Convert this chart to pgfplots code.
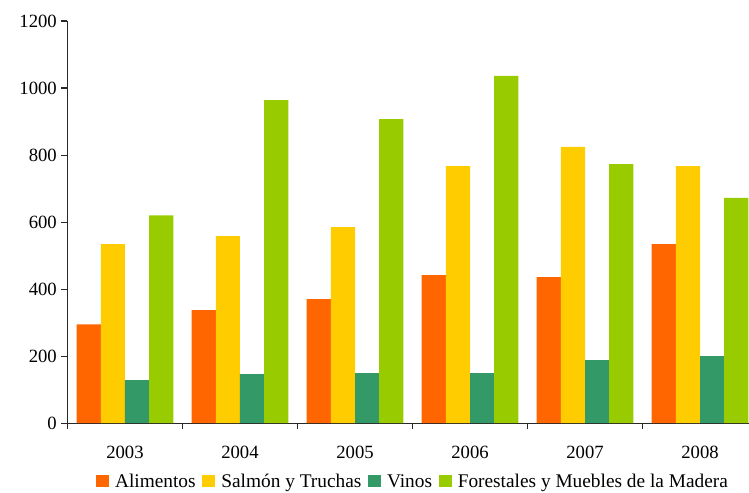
\documentclass[border=0pt]{standalone}
\usepackage{fontspec}
\setmainfont{Liberation Serif}
\usepackage{pgfplots}
\pgfplotsset{compat=1.18}
\definecolor{alim}{RGB}{255,102,0}
\definecolor{salmon}{RGB}{255,204,0}
\definecolor{vinos}{RGB}{51,153,102}
\definecolor{forest}{RGB}{153,204,0}
\definecolor{axisgray}{RGB}{40,40,40}
\begin{document}
\begin{tikzpicture}
\useasboundingbox (-50.6pt,-51.75pt) rectangle (511pt,317.25pt);
\begin{axis}[
  scale only axis,
  width=511pt, height=301.5pt,
  xmin=-0.5, xmax=5.426,
  ymin=0, ymax=1200,
  ytick distance=200,
  xtick={0,1,2,3,4,5},
  xticklabels={2003,2004,2005,2006,2007,2008},
  minor xtick={-0.5,0.5,1.5,2.5,3.5,4.5},
  axis x line*=bottom,
  axis y line*=left,
  axis line style={axisgray, line width=0.8pt},
  tick align=outside,
  major tick length=4.5pt,
  minor tick length=4.5pt,
  x tick style={draw=none},
  minor x tick style={draw=axisgray, line width=0.8pt},
  y tick style={axisgray, line width=0.8pt},
  xticklabel style={yshift=-9pt},
  tick label style={font=\fontsize{14}{16}\selectfont},
  /pgf/number format/assume math mode=true,
  /pgf/number format/1000 sep={},
  ybar, bar width=0.21,
  clip=false,
  legend columns=-1,
  legend style={
    at={(0.5055,-0.1468)}, anchor=center,
    draw=none, fill=none,
    font=\fontsize{14.5}{16}\selectfont,
    inner sep=0pt,
    nodes={inner sep=0pt},
    /tikz/every odd column/.append style={column sep=4.5pt},
    /tikz/every even column/.append style={column sep=5pt},
  },
  legend image code/.code={
    \fill[#1] (0pt,-4pt) rectangle (9.75pt,5pt);
  },
]
\addplot[fill=alim, draw=none, bar shift=-0.315] coordinates {
(0,295) (1,337) (2,370) (3,442) (4,436) (5,534)};
\addlegendentry{Alimentos}
\addplot[fill=salmon, draw=none, bar shift=-0.105] coordinates {
(0,534) (1,558) (2,585) (3,767) (4,824) (5,767)};
\addlegendentry{Salmón y Truchas}
\addplot[fill=vinos, draw=none, bar shift=0.105] coordinates {
(0,128) (1,146) (2,149) (3,149) (4,188) (5,200)};
\addlegendentry{Vinos}
\addplot[fill=forest, draw=none, bar shift=0.315] coordinates {
(0,620) (1,964) (2,907) (3,1036) (4,773) (5,672)};
\addlegendentry{Forestales y Muebles de la Madera}
\end{axis}
\end{tikzpicture}
\end{document}
